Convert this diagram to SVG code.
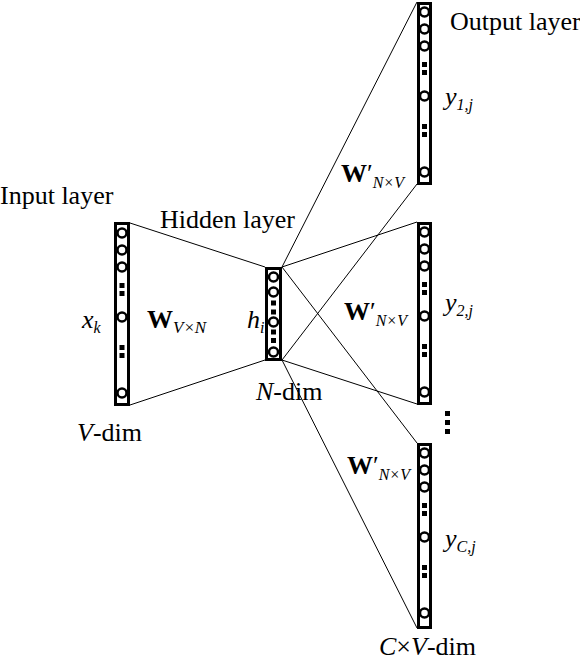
<svg xmlns="http://www.w3.org/2000/svg" width="580" height="662" viewBox="0 0 580 662" font-family="Liberation Serif, Times New Roman, serif">
<defs>
<g id="col" fill="#fff" stroke="#000" stroke-width="2.5">
<circle cx="0" cy="10" r="4.5"/>
<circle cx="0" cy="27" r="4.5"/>
<circle cx="0" cy="44" r="4.5"/>
<rect x="-2.5" y="60" width="5" height="5" fill="#000" stroke="none"/>
<rect x="-2.5" y="68" width="5" height="5" fill="#000" stroke="none"/>
<circle cx="0" cy="94" r="4.5"/>
<rect x="-2.5" y="122" width="5" height="5" fill="#000" stroke="none"/>
<rect x="-2.5" y="130" width="5" height="5" fill="#000" stroke="none"/>
<circle cx="0" cy="170" r="4.5"/>
</g>
</defs>
<g id="connectors" stroke="#000" stroke-width="1" fill="none">
<line x1="130" y1="223" x2="265" y2="267"/>
<line x1="130" y1="405" x2="265" y2="360"/>
<line x1="282" y1="267" x2="417" y2="2"/>
<line x1="282" y1="267" x2="417" y2="222"/>
<line x1="282" y1="267" x2="417" y2="443"/>
<line x1="282" y1="360" x2="417" y2="184"/>
<line x1="282" y1="360" x2="417" y2="404"/>
<line x1="282" y1="360" x2="417" y2="628"/>
</g>
<g id="input">
<rect x="115.5" y="223.5" width="13" height="181" fill="#fff" stroke="#000" stroke-width="3"/>
<use href="#col" x="122" y="223"/>
<text x="0" y="204" font-family="Times New Roman, Liberation Serif, serif" font-size="26">Input layer</text>
<text x="82" y="328" font-family="Times New Roman, Liberation Serif, serif" font-size="26" font-style="italic">x<tspan font-size="16" dy="5">k</tspan></text>
<text x="77" y="441" font-family="Times New Roman, Liberation Serif, serif" font-size="26"><tspan font-style="italic">V</tspan>-dim</text>
</g>
<g id="hidden">
<rect x="266.5" y="268.5" width="14" height="91" fill="#fff" stroke="#000" stroke-width="3"/>
<g fill="#fff" stroke="#000" stroke-width="2.5">
<circle cx="273.5" cy="277" r="4.5"/>
<circle cx="273.5" cy="292" r="4.5"/>
<circle cx="273.5" cy="322" r="4.5"/>
<circle cx="273.5" cy="352" r="4.5"/>
</g>
<g fill="#000">
<rect x="271" y="300.5" width="5" height="5"/>
<rect x="271" y="309.5" width="5" height="5"/>
<rect x="271" y="329.5" width="5" height="5"/>
<rect x="271" y="338" width="5" height="5"/>
</g>
<text x="160" y="228" font-family="Times New Roman, Liberation Serif, serif" font-size="26">Hidden layer</text>
<text x="247" y="328" font-family="Times New Roman, Liberation Serif, serif" font-size="26" font-style="italic">h<tspan font-size="16" dy="5">i</tspan></text>
<text x="256" y="400" font-family="Times New Roman, Liberation Serif, serif" font-size="26"><tspan font-style="italic">N</tspan>-dim</text>
</g>
<g id="weights-in">
<text x="147" y="328" font-family="Times New Roman, Liberation Serif, serif" font-size="26" font-weight="bold">W<tspan font-size="17" font-style="italic" font-weight="normal" dy="5">V×N</tspan></text>
</g>
<g id="output1">
<rect x="418.5" y="3.5" width="12" height="180" fill="#fff" stroke="#000" stroke-width="3"/>
<use href="#col" x="424.5" y="2"/>
<text x="450" y="30" font-family="Times New Roman, Liberation Serif, serif" font-size="26">Output layer</text>
<text x="445" y="105" font-family="Times New Roman, Liberation Serif, serif" font-size="26" font-style="italic">y<tspan font-size="16" dy="5">1,j</tspan></text>
<text x="341" y="182" font-family="Times New Roman, Liberation Serif, serif" font-size="26" font-weight="bold">W<tspan font-weight="normal">′</tspan><tspan font-size="16" font-style="italic" font-weight="normal" dy="6">N×V</tspan></text>
</g>
<g id="output2">
<rect x="418.5" y="223.5" width="12" height="180" fill="#fff" stroke="#000" stroke-width="3"/>
<use href="#col" x="424.5" y="222"/>
<text x="445" y="311" font-family="Times New Roman, Liberation Serif, serif" font-size="26" font-style="italic">y<tspan font-size="16" dy="5">2,j</tspan></text>
<text x="344" y="320" font-family="Times New Roman, Liberation Serif, serif" font-size="26" font-weight="bold">W<tspan font-weight="normal">′</tspan><tspan font-size="16" font-style="italic" font-weight="normal" dy="6">N×V</tspan></text>
</g>
<g id="ellipsis" fill="#000">
<rect x="445" y="411" width="5" height="5"/>
<rect x="445" y="420" width="5" height="5"/>
<rect x="445" y="429" width="5" height="5"/>
</g>
<g id="output3">
<rect x="418.5" y="444.5" width="12" height="183" fill="#fff" stroke="#000" stroke-width="3"/>
<use href="#col" x="424.5" y="443"/>
<text x="445" y="547" font-family="Times New Roman, Liberation Serif, serif" font-size="26" font-style="italic">y<tspan font-size="16" dy="5">C,j</tspan></text>
<text x="347" y="474" font-family="Times New Roman, Liberation Serif, serif" font-size="26" font-weight="bold">W<tspan font-weight="normal">′</tspan><tspan font-size="16" font-style="italic" font-weight="normal" dy="6">N×V</tspan></text>
<text x="379" y="655" font-family="Times New Roman, Liberation Serif, serif" font-size="26"><tspan font-style="italic">C</tspan>×<tspan font-style="italic">V</tspan>-dim</text>
</g>
</svg>
